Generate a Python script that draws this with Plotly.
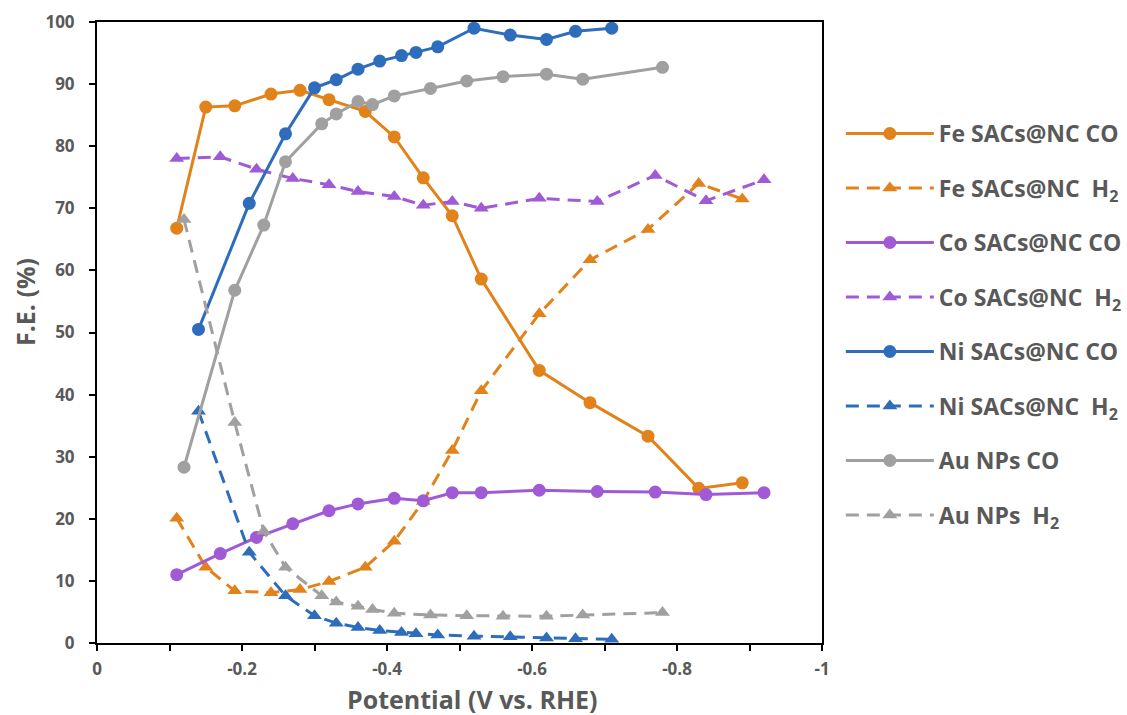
import plotly.graph_objects as go

# ---------------- data ----------------
fe_x = [-0.11, -0.15, -0.19, -0.24, -0.28, -0.32, -0.37, -0.41, -0.45, -0.49, -0.53, -0.61, -0.68, -0.76, -0.83, -0.89]
fe_co = [66.8, 86.3, 86.5, 88.4, 89.0, 87.5, 85.6, 81.5, 74.9, 68.8, 58.6, 43.9, 38.7, 33.3, 24.9, 25.8]
fe_h2 = [20.1, 12.2, 8.4, 8.1, 8.6, 9.9, 12.2, 16.4, 22.8, 31.0, 40.6, 53.0, 61.7, 66.6, 74.0, 71.5]

co_x = [-0.11, -0.17, -0.22, -0.27, -0.32, -0.36, -0.41, -0.45, -0.49, -0.53, -0.61, -0.69, -0.77, -0.84, -0.92]
co_co = [11.0, 14.4, 17.0, 19.2, 21.3, 22.4, 23.3, 22.9, 24.2, 24.2, 24.6, 24.4, 24.3, 23.9, 24.2]
co_h2 = [78.0, 78.3, 76.3, 74.8, 73.8, 72.7, 71.9, 70.5, 71.1, 70.0, 71.6, 71.1, 75.3, 71.2, 74.6]

ni_x = [-0.14, -0.21, -0.26, -0.30, -0.33, -0.36, -0.39, -0.42, -0.44, -0.47, -0.52, -0.57, -0.62, -0.66, -0.71]
ni_co = [50.5, 70.8, 82.0, 89.4, 90.7, 92.4, 93.7, 94.6, 95.1, 96.0, 99.0, 97.9, 97.2, 98.5, 99.0]
ni_h2 = [37.3, 14.6, 7.6, 4.4, 3.2, 2.5, 2.0, 1.7, 1.5, 1.3, 1.1, 1.0, 0.8, 0.7, 0.6]

au_x = [-0.12, -0.19, -0.23, -0.26, -0.31, -0.33, -0.36, -0.38, -0.41, -0.46, -0.51, -0.56, -0.62, -0.67, -0.78]
au_co = [28.3, 56.8, 67.3, 77.5, 83.6, 85.2, 87.2, 86.7, 88.1, 89.3, 90.5, 91.2, 91.6, 90.8, 92.7]
au_h2 = [68.2, 35.5, 18.0, 12.2, 7.6, 6.6, 5.9, 5.4, 4.8, 4.5, 4.4, 4.3, 4.3, 4.5, 4.9]

x_tickvals = [0, -0.2, -0.4, -0.6, -0.8, -1.0]
x_ticktext = ["0", "-0.2", "-0.4", "-0.6", "-0.8", "-1"]
x_minor_vals = [-0.1, -0.3, -0.5, -0.7, -0.9]
y_tickvals = [0, 10, 20, 30, 40, 50, 60, 70, 80, 90, 100]

names = [
    "Fe SACs@NC CO", "Fe SACs@NC  H<sub>2</sub>",
    "Co SACs@NC CO", "Co SACs@NC  H<sub>2</sub>",
    "Ni SACs@NC CO", "Ni SACs@NC  H<sub>2</sub>",
    "Au NPs CO", "Au NPs  H<sub>2</sub>",
]
x_title = "Potential (V vs. RHE)"
y_title = "F.E. (%)"

ORANGE = "#E2821A"
PURPLE = "#A05AD6"
BLUE = "#2E6DBB"
GRAY = "#A0A0A0"
TXT = "#595959"
FONT = "Open Sans, Arial, sans-serif"

series = [
    (fe_x, fe_co, ORANGE, "solid", "circle"),
    (fe_x, fe_h2, ORANGE, "dash", "triangle-up"),
    (co_x, co_co, PURPLE, "solid", "circle"),
    (co_x, co_h2, PURPLE, "dash", "triangle-up"),
    (ni_x, ni_co, BLUE, "solid", "circle"),
    (ni_x, ni_h2, BLUE, "dash", "triangle-up"),
    (au_x, au_co, GRAY, "solid", "circle"),
    (au_x, au_h2, GRAY, "dash", "triangle-up"),
]

fig = go.Figure()
for i, (xs, ys, col, dash, sym) in enumerate(series):
    fig.add_trace(go.Scatter(
        x=xs, y=ys, name=names[i], mode="lines+markers",
        legendgroup="g%d" % i,
        line=dict(color=col, width=3, dash="solid" if dash == "solid" else "13px,8px"),
        marker=dict(color=col, symbol=sym, size=13),
    ))

axis_font = dict(family=FONT, size=17, color=TXT, weight="bold")
title_font = dict(family=FONT, size=25, color=TXT, weight="bold")

fig.update_layout(
    width=1127, height=715,
    margin=dict(l=97, r=305, t=22, b=72, autoexpand=False),
    paper_bgcolor="white", plot_bgcolor="white",
    font=dict(family=FONT, color=TXT),
    showlegend=True,
    legend=dict(
        x=1.026, xanchor="left", y=0.855, yanchor="top",
        font=dict(size=23, color=TXT, family=FONT, weight="bold"),
        tracegroupgap=21.6, itemwidth=88,
        bgcolor="rgba(0,0,0,0)",
    ),
    xaxis=dict(
        range=[0, -1], tickvals=x_tickvals, ticktext=x_ticktext,
        ticks="outside", ticklen=6, tickwidth=1.5, tickcolor="black",
        ticklabelstandoff=4,
        minor=dict(tickvals=x_minor_vals, ticks="outside", ticklen=6, tickwidth=1.5,
                   tickcolor="black", showgrid=False),
        showline=True, linecolor="black", linewidth=2, mirror=True,
        showgrid=False, zeroline=False, tickfont=axis_font,
    ),
    yaxis=dict(
        range=[0, 100], tickvals=y_tickvals,
        ticks="outside", ticklen=6, tickwidth=1.5, tickcolor="black",
        ticklabelstandoff=11,
        showline=True, linecolor="black", linewidth=2, mirror=True,
        showgrid=False, zeroline=False, tickfont=axis_font,
    ),
    annotations=[
        dict(text=x_title, xref="paper", yref="paper", x=(472 - 97) / 725, y=-(699 - 643) / 621,
             xanchor="center", yanchor="middle", showarrow=False, font=title_font),
        dict(text=y_title, xref="paper", yref="paper", x=-(97 - 25) / 725, y=(643 - 302) / 621,
             xanchor="center", yanchor="middle", showarrow=False, textangle=-90, font=title_font),
    ],
)

fig.write_html("out.html")
